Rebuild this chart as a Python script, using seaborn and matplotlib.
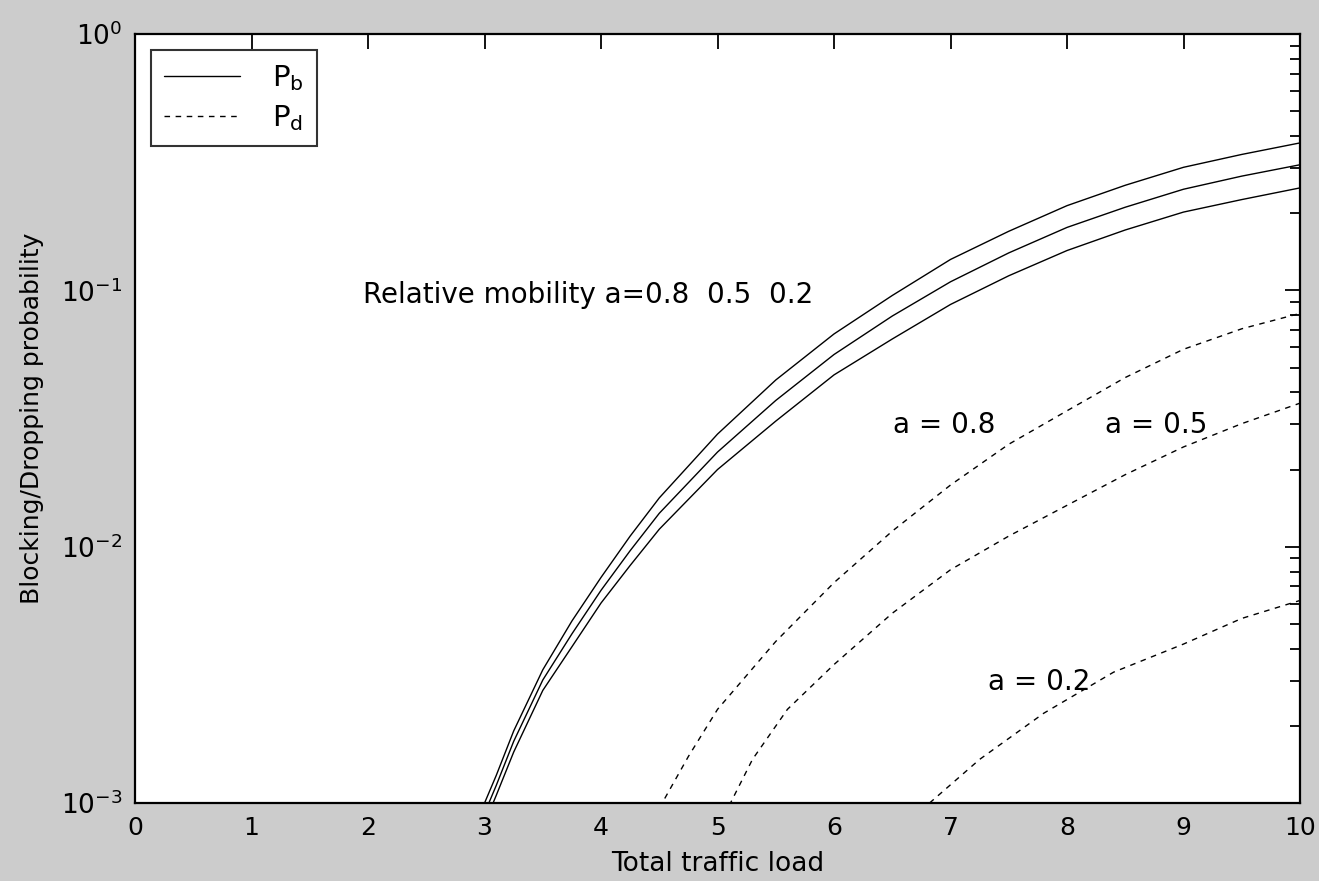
import numpy as np
import pandas as pd
import matplotlib
matplotlib.use('Agg')
import matplotlib.pyplot as plt
from matplotlib.lines import Line2D
from matplotlib.ticker import LogLocator, FixedLocator
import seaborn as sns

# 총 트래픽 부하에 따른 차단(Pb)/탈락(Pd) 확률
load_pb = [3.0, 3.1, 3.25, 3.5, 3.75, 4.0, 4.25, 4.5, 5.0, 5.5, 6.0, 6.5, 7.0, 7.5, 8.0, 8.5, 9.0, 9.5, 10.0]
pb_08 = [0.00100, 0.00128, 0.00191, 0.00331, 0.00513, 0.00759, 0.0110, 0.0155, 0.0275, 0.0447, 0.0676, 0.0955,
         0.132, 0.170, 0.214, 0.257, 0.302, 0.339, 0.376]
pb_05 = [0.000912, 0.00117, 0.00174, 0.00302, 0.00457, 0.00676, 0.00965, 0.0135, 0.0234, 0.0372, 0.0562, 0.0794,
         0.108, 0.140, 0.176, 0.211, 0.248, 0.279, 0.309]
pb_02 = [0.000832, 0.00107, 0.00158, 0.00275, 0.00407, 0.00603, 0.00845, 0.0117, 0.0200, 0.0309, 0.0468, 0.0646,
         0.0881, 0.114, 0.143, 0.172, 0.202, 0.226, 0.251]

load_pd_08 = [4.5, 4.75, 5.0, 5.5, 6.0, 6.5, 7.0, 7.5, 8.0, 8.5, 9.0, 9.5, 10.0]
pd_08 = [0.000955, 0.00152, 0.00232, 0.00427, 0.00724, 0.0115, 0.0174, 0.0251, 0.0339, 0.0457,
         0.0589, 0.0708, 0.0813]
load_pd_05 = [5.1, 5.3, 5.6, 6.0, 6.5, 7.0, 7.5, 8.0, 8.5, 9.0, 9.5, 10.0]
pd_05 = [0.000977, 0.00148, 0.00232, 0.00347, 0.00550, 0.00813, 0.0110, 0.0145, 0.0191, 0.0245,
         0.0302, 0.0363]
load_pd_02 = [6.82, 7.25, 7.8, 8.4, 9.0, 9.5, 10.0]
pd_02 = [0.00100, 0.00148, 0.00224, 0.00324, 0.00417, 0.00525, 0.00617]

x_ticks = [0, 1, 2, 3, 4, 5, 6, 7, 8, 9, 10]

frames = []
for x, y, kind, a in [(load_pb, pb_08, 'Pb', 0.8), (load_pb, pb_05, 'Pb', 0.5), (load_pb, pb_02, 'Pb', 0.2),
                      (load_pd_08, pd_08, 'Pd', 0.8), (load_pd_05, pd_05, 'Pd', 0.5), (load_pd_02, pd_02, 'Pd', 0.2)]:
    frames.append(pd.DataFrame({'load': x, 'prob': y, 'kind': kind, 'a': a}))
df = pd.concat(frames, ignore_index=True)

sns.set_style('white')
plt.rcParams['font.family'] = ['DejaVu Sans']
plt.rcParams['mathtext.fontset'] = 'dejavusans'
plt.rcParams['text.color'] = 'black'
plt.rcParams['axes.labelcolor'] = 'black'
plt.rcParams['xtick.color'] = 'black'
plt.rcParams['ytick.color'] = 'black'

bg = '#cccccc'
fig = plt.figure(figsize=(13.19, 8.81), dpi=100, facecolor=bg)
ax = fig.add_axes([0.1024, 0.0885, 0.8832, 0.8729])
ax.set_facecolor('white')

sns.lineplot(data=df, x='load', y='prob', style='kind', units='a', estimator=None,
             color='black', linewidth=1.0, dashes=['', (4, 4)], legend=False, sort=False, ax=ax)

ax.set_yscale('log')
ax.set_xlim(0, 10)
ax.set_ylim(1e-3, 1e0)
ax.xaxis.set_major_locator(FixedLocator(x_ticks))
ax.yaxis.set_major_locator(LogLocator(base=10, numticks=10))
ax.yaxis.set_minor_locator(LogLocator(base=10, subs=np.arange(2, 10), numticks=10))

for s in ax.spines.values():
    s.set_color('black')
    s.set_linewidth(1.6)
ax.tick_params(which='both', direction='in', top=True, right=True, color='black')
ax.tick_params(which='major', length=11, width=1.3, pad=9)
ax.tick_params(which='minor', length=7, width=1.3)
ax.tick_params(axis='x', which='major', labelsize=18)
ax.tick_params(axis='y', which='major', labelsize=19)

ax.set_xlabel('Total traffic load', fontsize=19, labelpad=8)
ax.set_ylabel('Blocking/Dropping probability', fontsize=18, labelpad=12)

ax.text(1.96, 0.096, 'Relative mobility a=0.8  0.5  0.2', fontsize=20, va='center', ha='left')
ax.text(6.51, 0.0298, 'a = 0.8', fontsize=20, va='center', ha='left')
ax.text(8.33, 0.0298, 'a = 0.5', fontsize=20, va='center', ha='left')
ax.text(7.32, 0.00296, 'a = 0.2', fontsize=20, va='center', ha='left')

handles = [Line2D([], [], color='black', linewidth=1.0),
           Line2D([], [], color='black', linewidth=1.0, dashes=(4, 4))]
leg = ax.legend(handles, [r'$\mathregular{P_b}$', r'$\mathregular{P_d}$'], loc='upper left',
                fontsize=21, frameon=True, fancybox=False, handlelength=2.6,
                borderaxespad=0.55, borderpad=0.45, labelspacing=0.35, handletextpad=1.1)
leg.get_frame().set_edgecolor('black')
leg.get_frame().set_linewidth(1.5)

fig.savefig('out.png', dpi=100, facecolor=bg)
